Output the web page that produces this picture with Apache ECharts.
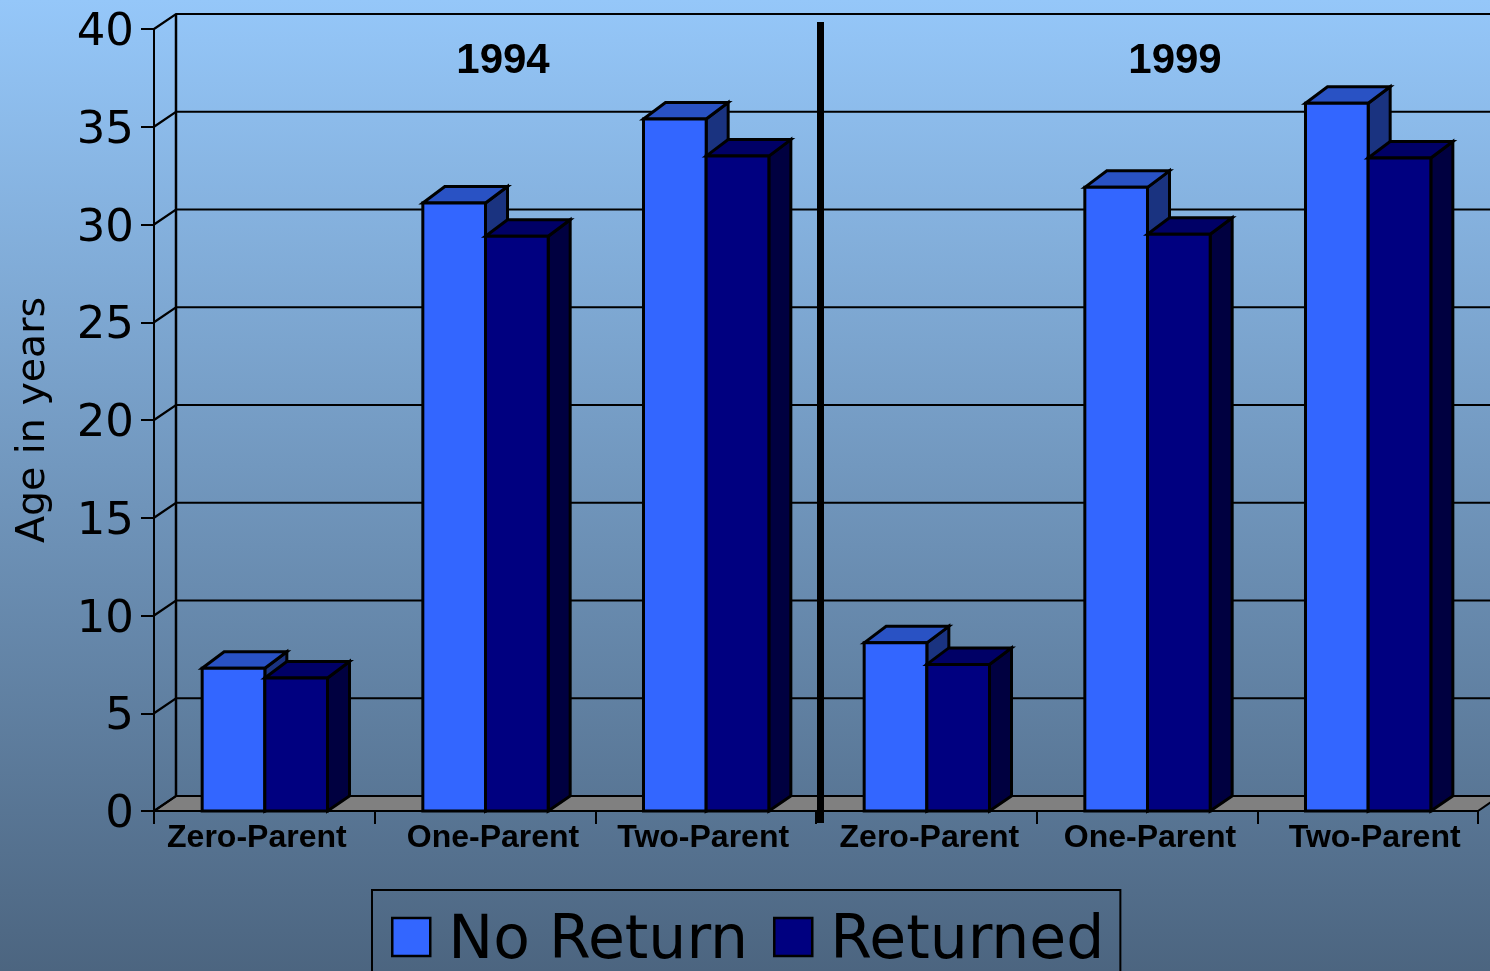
<!DOCTYPE html>
<html><head><meta charset="utf-8">
<style>html,body{margin:0;padding:0;background:#4d6680}#c{width:1490px;height:971px}</style>
<script src="https://cdn.jsdelivr.net/npm/echarts@6/dist/echarts.min.js"></script>
</head><body><div id="c"></div>
<script>
const categories = ['Zero-Parent','One-Parent','Two-Parent','Zero-Parent','One-Parent','Two-Parent'];
const noReturn = [7.3, 31.1, 35.4, 8.6, 31.9, 36.2];
const returned = [6.8, 29.4, 33.5, 7.5, 29.5, 33.4];
const yTicks = [0,5,10,15,20,25,30,35,40];
const panelTitles = ['1994','1999'];
const seriesNames = ['No Return','Returned'];

const DX = 22, DY = 15, DT = 16.5, BLACK = '#000';
const labelShift = [[0,15,0,0],[0,0,0,16],[0,5,0,0],[0,0,0,6],[0,0,0,6],[0,0,0,14]];
const rich = {};
labelShift.forEach((p,i)=>{ rich['s'+i] = {padding:p, fontFamily:'Liberation Sans', fontWeight:'bold', fontSize:32, color:BLACK}; });

function poly(points, fill, lw){
  return {type:'polygon', shape:{points}, style:{fill, stroke:BLACK, lineWidth:lw, lineJoin:'miter'}};
}
function barSeries(name, values, side, cFront, cTop, cSide){
  return {
    type:'custom', name, coordinateSystem:'cartesian2d', clip:false, z:3,
    itemStyle:{color:cFront},
    encode:{x:0,y:1},
    data:values.map((v,i)=>[i,v]),
    renderItem(params, api){
      const v = api.value(1);
      const top = api.coord([api.value(0), v]);
      const base = api.coord([api.value(0), 0]);
      const w = api.size([1,0])[0] * 0.284;
      const mid = top[0] + 0.5;
      const x0 = side < 0 ? mid-w : mid;
      const x1 = x0 + w;
      const y0 = top[1], y1 = base[1];
      return {type:'group', children:[
        poly([[x1,y1],[x1+DX,y1-DY],[x1+DX,y0-DT],[x1,y0]], cSide, 3),
        poly([[x0,y0],[x0+DX,y0-DT],[x1+DX,y0-DT],[x1,y0]], cTop, 3),
        poly([[x0,y0],[x1,y0],[x1,y1],[x0,y1]], cFront, 3)
      ]};
    }
  };
}

const option = {
  animation:false,
  backgroundColor:{type:'linear',x:0,y:0,x2:0,y2:1,colorStops:[{offset:0,color:'#95C7F9'},{offset:1,color:'#4C6580'}]},
  title:[
    {text:panelTitles[0], left:498, top:35, textAlign:'center', textStyle:{fontFamily:'Liberation Sans',fontWeight:'bold',fontSize:42,color:BLACK}},
    {text:panelTitles[1], left:1170, top:35, textAlign:'center', textStyle:{fontFamily:'Liberation Sans',fontWeight:'bold',fontSize:42,color:BLACK}}
  ],
  grid:{left:154,right:12,top:29,bottom:160,containLabel:false},
  xAxis:{type:'category',data:categories,boundaryGap:true,
    axisLine:{show:true,lineStyle:{color:BLACK,width:2}},
    axisTick:{show:true,length:13,alignWithLabel:false,interval:0,lineStyle:{color:BLACK,width:2}},
    axisLabel:{interval:0,margin:11,hideOverlap:false,fontFamily:'Liberation Sans',fontWeight:'bold',fontSize:32,color:BLACK,
      formatter:(v,i)=>`{s${i}|${v}}`,rich},
    splitLine:{show:false}},
  yAxis:{type:'value',min:0,max:40,interval:5,
    name:'Age in years',nameLocation:'middle',nameRotate:90,nameGap:100,
    nameTextStyle:{fontFamily:'DejaVu Sans',fontSize:39.5,color:BLACK},
    axisLine:{show:true,lineStyle:{color:BLACK,width:2}},
    axisTick:{show:true,length:13,lineStyle:{color:BLACK,width:2}},
    axisLabel:{margin:20,fontFamily:'DejaVu Sans',fontSize:45,color:BLACK,
      formatter:v=>`{v|${v}}`,
      rich:{v:{padding:[9,0,0,0],fontFamily:'DejaVu Sans',fontSize:45,color:BLACK}}},
    splitLine:{show:false}},
  legend:{
    left:372,top:890,orient:'horizontal',
    data:seriesNames.map((n,i)=>({name:n,icon:'rect',itemStyle:{color:i?'#000080':'#3366FF',borderColor:BLACK,borderWidth:2.5}})),
    itemWidth:38,itemHeight:38,itemGap:25,
    padding:[22,16,40,19],
    borderColor:BLACK,borderWidth:2,
    formatter:n=>`{t|${n}}`,
    textStyle:{fontFamily:'DejaVu Sans',fontSize:60,color:BLACK,
      rich:{t:{padding:[10,0,0,13],fontFamily:'DejaVu Sans',fontSize:60,color:BLACK}}},
    selectedMode:false
  },
  series:[
    {type:'custom',name:'floor',coordinateSystem:'cartesian2d',clip:false,z:1,silent:true,
      encode:{x:0,y:1},data:[[0,0]],
      renderItem(params,api){
        const bw=api.size([1,0])[0];
        const a=api.coord([0,0]), b=api.coord([categories.length-1,0]);
        const L=a[0]-bw/2,R=b[0]+bw/2,Y=a[1];
        return poly([[L,Y],[L+DX,Y-DY],[R+DX,Y-DY],[R,Y]],'#808080',2);
      }},
    {type:'custom',name:'wall',coordinateSystem:'cartesian2d',clip:false,z:1,silent:true,
      encode:{x:0,y:1},data:yTicks.map(v=>[0,v]),
      renderItem(params,api){
        const v=api.value(1), bw=api.size([1,0])[0];
        const a=api.coord([0,v]), b=api.coord([categories.length-1,v]);
        const L=a[0]-bw/2,R=b[0]+bw/2,Y=a[1];
        const kids=[{type:'polyline',shape:{points:[[L,Y],[L+DX,Y-DY],[R+DX,Y-DY]]},style:{fill:null,stroke:BLACK,lineWidth:2.2}}];
        if(v===0){
          const t=api.coord([0,40]);
          kids.push({type:'line',shape:{x1:L+DX,y1:Y-DY,x2:L+DX,y2:t[1]-DY},style:{stroke:BLACK,lineWidth:2.5}});
        }
        return {type:'group',children:kids};
      }},
    barSeries(seriesNames[0],noReturn,-1,'#3366FF','#2952C4','#1A3380'),
    barSeries(seriesNames[1],returned,1,'#000080','#000066','#000040'),
    {type:'custom',name:'divider',coordinateSystem:'cartesian2d',clip:false,z:5,silent:true,
      encode:{x:0,y:1},data:[[2,0]],
      renderItem(params,api){
        const bw=api.size([1,0])[0];
        const a=api.coord([2,0]), t=api.coord([2,40]);
        const x=a[0]+bw/2+4.5;
        return {type:'line',shape:{x1:x,y1:t[1]-7,x2:x,y2:a[1]+12},style:{stroke:BLACK,lineWidth:7}};
      }}
  ]
};
echarts.init(document.getElementById('c'),null,{renderer:'canvas'}).setOption(option);
</script></body></html>
